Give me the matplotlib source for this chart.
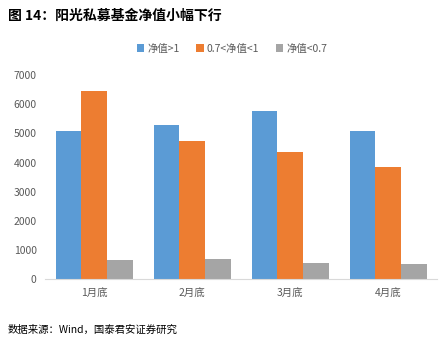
import matplotlib.pyplot as plt
import numpy as np

plt.rcParams['font.family'] = ['Noto Sans CJK SC', 'DejaVu Sans']

# Month-end counts of private funds by net value band
months = ['1月底', '2月底', '3月底', '4月底']
series_names = ['净值>1', '0.7<净值<1', '净值<0.7']
above_1 = [5070, 5300, 5750, 5070]
between = [6450, 4720, 4350, 3840]
below_07 = [650, 700, 570, 530]
colors = ['#5B9BD5', '#ED7D31', '#A5A5A5']

fig = plt.figure(figsize=(4.46, 3.48), dpi=100)
ax = fig.add_axes([0.101, 0.197, 0.879, 0.588])

x = np.arange(len(months))
w = 0.262
for i, (vals, name) in enumerate(zip([above_1, between, below_07], series_names)):
    ax.bar(x + (i - 1) * w, vals, width=w, color=colors[i], label=name, zorder=2)

ax.set_xlim(-0.5, len(months) - 0.5)
ax.set_ylim(0, 7000)
ax.set_yticks(range(0, 7001, 1000))
ax.set_xticks(x)
ax.set_xticklabels(months)
ax.tick_params(axis='both', length=0, labelsize=7.5, colors='#595959')
ax.tick_params(axis='y', pad=6)
ax.tick_params(axis='x', pad=6)
for s in ['top', 'right', 'left']:
    ax.spines[s].set_visible(False)
ax.spines['bottom'].set_color('#D9D9D9')

leg = fig.legend(loc='center', bbox_to_anchor=(0.52, 0.86), ncol=3, frameon=False,
                 fontsize=7.5, handlelength=0.7, handleheight=0.7, handletextpad=0.3,
                 columnspacing=1.6)
for t in leg.get_texts():
    t.set_color('#595959')

fig.text(0.018, 0.955, '图 14：阳光私募基金净值小幅下行', fontsize=10, fontweight='bold',
         va='center', ha='left', color='black')
fig.text(0.018, 0.052, '数据来源：Wind，国泰君安证券研究', fontsize=7.5,
         va='center', ha='left', color='black')

fig.savefig('out.png', dpi=100)
